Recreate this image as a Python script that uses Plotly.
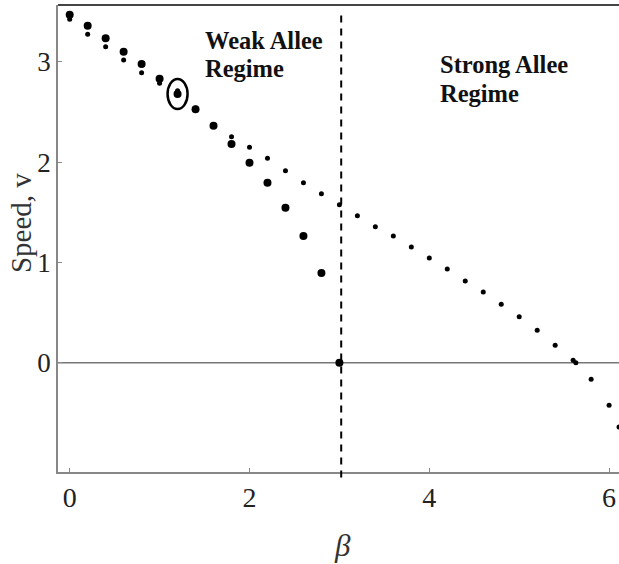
import plotly.graph_objects as go

# ---- data ----
beta_big = [0.0, 0.2, 0.4, 0.6, 0.8, 1.0, 1.2, 1.4, 1.6, 1.8, 2.0, 2.2, 2.4, 2.6, 2.8, 3.0]
v_big = [3.470, 3.360, 3.234, 3.101, 2.978, 2.831, 2.679, 2.526, 2.361, 2.180,
         1.994, 1.795, 1.545, 1.263, 0.894, 0.0]

beta_small = [0.0, 0.2, 0.4, 0.6, 0.8, 1.0, 1.2, 1.4, 1.6, 1.8, 2.0, 2.2, 2.4, 2.6, 2.8,
              3.0, 3.2, 3.4, 3.6, 3.8, 4.0, 4.2, 4.4, 4.6, 4.8, 5.0, 5.2, 5.4, 5.6, 5.63,
              5.8, 6.0, 6.11]
v_small = [3.424, 3.274, 3.150, 3.018, 2.891, 2.785, 2.710, 2.540, 2.370, 2.253, 2.148,
           2.038, 1.914, 1.795, 1.685, 1.575, 1.466, 1.356, 1.263, 1.154, 1.044, 0.934,
           0.814, 0.704, 0.582, 0.459, 0.323, 0.173, 0.024, 0.0, -0.166, -0.425, -0.641]

highlight_beta = [1.2]      # circled point
beta_critical = [3.02]      # weak / strong Allee boundary
x_ticks = [0, 2, 4, 6]
y_ticks = [0, 1, 2, 3]
regime_labels = ["Weak Allee", "Regime", "Strong Allee", "Regime"]

SERIF = "Liberation Serif, Times New Roman, serif"

fig = go.Figure()
fig.add_trace(go.Scatter(x=beta_small, y=v_small, mode="markers",
                         marker=dict(size=5, color="black"), showlegend=False))
fig.add_trace(go.Scatter(x=beta_big, y=v_big, mode="markers",
                         marker=dict(size=8, color="black"), showlegend=False))

# zero line
fig.add_shape(type="line", xref="paper", yref="y", x0=0, x1=1, y0=0, y1=0,
              line=dict(color="#777777", width=1.5), layer="below")
# top frame line
fig.add_shape(type="line", xref="paper", yref="paper", x0=0, x1=1, y0=1, y1=1,
              line=dict(color="#444444", width=2))
# dashed boundary
fig.add_shape(type="line", xref="x", yref="paper", x0=beta_critical[0], x1=beta_critical[0],
              y0=-0.012, y1=0.985, line=dict(color="black", width=2, dash="7px,6px"))
# circle around highlighted point
hi = beta_big.index(highlight_beta[0])
fig.add_shape(type="circle", xref="x", yref="y", xsizemode="pixel", ysizemode="pixel",
              xanchor=beta_big[hi], yanchor=v_big[hi], x0=-10, x1=10, y0=-15, y1=15,
              line=dict(color="black", width=2.5))

bold_font = dict(family=SERIF, size=24.5, color="#111111")
fig.add_annotation(x=1.48, y=3.215, xref="x", yref="y", text="<b>%s</b>" % regime_labels[0],
                   showarrow=False, xanchor="left", yanchor="middle", font=bold_font)
fig.add_annotation(x=1.48, y=2.930, xref="x", yref="y", text="<b>%s</b>" % regime_labels[1],
                   showarrow=False, xanchor="left", yanchor="middle", font=bold_font)
fig.add_annotation(x=4.10, y=2.97, xref="x", yref="y", text="<b>%s</b>" % regime_labels[2],
                   showarrow=False, xanchor="left", yanchor="middle", font=bold_font)
fig.add_annotation(x=4.10, y=2.685, xref="x", yref="y", text="<b>%s</b>" % regime_labels[3],
                   showarrow=False, xanchor="left", yanchor="middle", font=bold_font)

# axis titles
fig.add_annotation(x=-0.066, y=0.533, xref="paper", yref="paper", text="Speed, v",
                   textangle=-90, showarrow=False, xanchor="center", yanchor="middle",
                   font=dict(family=SERIF, size=29, color="#333333"))
fig.add_annotation(x=0.508, y=-0.158, xref="paper", yref="paper", text="<i>β</i>",
                   showarrow=False, xanchor="center", yanchor="middle",
                   font=dict(family=SERIF, size=31, color="#333333"))

fig.update_xaxes(range=[-0.13, 6.11], showgrid=False, zeroline=False, showline=True,
                 linecolor="#888888", linewidth=1.5, ticks="inside", ticklen=4,
                 tickcolor="#888888", tickvals=x_ticks,
                 tickfont=dict(family=SERIF, size=28, color="#222222"))
fig.update_yaxes(range=[-1.09, 3.566], showgrid=False, zeroline=False, showline=True,
                 linecolor="#888888", linewidth=1.5, ticks="inside", ticklen=4,
                 tickcolor="#888888", tickvals=y_ticks,
                 tickfont=dict(family=SERIF, size=27, color="#222222"))

fig.update_layout(width=619, height=564, margin=dict(l=58, r=0, t=5, b=92),
                  plot_bgcolor="white", paper_bgcolor="white")

fig.write_html("out.html", config={"displayModeBar": False},
               post_script="document.body.style.margin='0px';document.body.style.overflow='hidden';")
